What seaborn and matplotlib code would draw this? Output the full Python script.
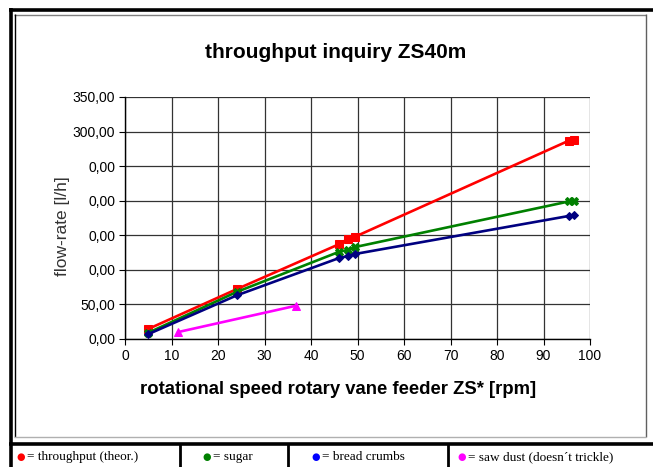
import matplotlib
matplotlib.use("Agg")
import matplotlib.pyplot as plt
import seaborn as sns
from matplotlib.lines import Line2D

# Data
red_x = [5, 24, 46, 48, 49.5, 95.5, 96.5]
red_y = [14.5, 72, 137, 145, 148, 287, 288]
green_x = [5, 24, 46, 48, 49.5, 95.5, 96.5]
green_y = [9, 68, 126, 129, 133, 199, 200]
blue_x = [5, 24, 46, 48, 49.5, 95.5, 96.5]
blue_y = [7, 63, 117, 120, 123, 178, 179]
pink_x = [11.4, 36.7]
pink_y = [10, 48]

y_ticks = [0, 50, 100, 150, 200, 250, 300, 350]
y_labels = ['0,00', '50,00', '0,00', '0,00', '0,00', '0,00', '300,00', '350,00']
x_ticks = list(range(0, 101, 10))

legend_items = ['= throughput (theor.)', '= sugar', '= bread crumbs',
                '= saw dust (doesn\u00b4t trickle)']
legend_colors = ['#ff0000', '#008000', '#0000ff', '#ff00ff']

sns.set_style('white')
plt.rcParams['font.family'] = ['Liberation Sans', 'DejaVu Sans']
plt.rcParams['text.color'] = 'black'
plt.rcParams['axes.labelcolor'] = 'black'

W, H = 653, 467
fig = plt.figure(figsize=(W / 100, H / 100), dpi=100)
ax = fig.add_axes([125 / W, 1 - 339 / H, (590 - 125) / W, (339 - 97) / H])

series = [(red_x, red_y, '#ff0000', 's', 5.5),
          (green_x, green_y, '#008000', 'X', 6),
          (blue_x, blue_y, '#000080', 'D', 4.5),
          (pink_x, pink_y, '#ff00ff', '^', 6)]
for xs, ys, col, mk, ms in series:
    sns.lineplot(x=xs, y=ys, ax=ax, color=col, marker=mk, markersize=ms,
                 markeredgecolor=col, linewidth=1.9, sort=False, zorder=3)

ax.set_xlim(0, 100)
ax.set_ylim(0, 350)
ax.set_xticks(x_ticks)
ax.set_yticks(y_ticks)
ax.set_yticklabels(y_labels)
ax.grid(True, color='#333333', linewidth=0.9)
for s in ['top', 'right']:
    ax.spines[s].set_visible(False)
for s in ['left', 'bottom']:
    ax.spines[s].set_color('black')
    ax.spines[s].set_linewidth(1.0)
ax.tick_params(axis='both', direction='out', length=4, width=0.8,
               colors='black', labelsize=10, pad=3,
               left=True, bottom=True)

# titles and axis labels
fig.text(336 / W, 1 - 52 / H, 'throughput inquiry ZS40m', ha='center',
         va='center', fontsize=15, fontweight='bold')
fig.text(338 / W, 1 - 390 / H, 'rotational speed rotary vane feeder ZS* [rpm]',
         ha='center', va='center', fontsize=13.3, fontweight='bold')
fig.text(63 / W, 1 - 226 / H, 'flow-rate [l/h]', ha='center', va='center',
         rotation=90, fontsize=12.5, color='#333333')

# frames
def hline(y, x0, x1, color, lw):
    fig.add_artist(Line2D([x0 / W, x1 / W], [1 - y / H, 1 - y / H],
                          color=color, linewidth=lw, solid_capstyle='butt'))

def vline(x, y0, y1, color, lw):
    fig.add_artist(Line2D([x / W, x / W], [1 - y0 / H, 1 - y1 / H],
                          color=color, linewidth=lw, solid_capstyle='butt'))

hline(9.5, 9, W, 'black', 2.6)
vline(10.5, 8, H, 'black', 2.6)
hline(14.5, 14, 646, '#808080', 1.0)
vline(14.5, 14, 437, 'black', 1.0)
vline(646, 14, 437, '#606060', 1.0)
hline(437, 14, 646, '#b0b0b0', 1.0)
hline(443.5, 9, W, 'black', 2.6)
for xs in [180, 288, 448]:
    vline(xs, 443, H, 'black', 2.0)

# legend table
dot_x = [21, 207, 316, 462]
text_x = [27, 213, 322, 468]
for dx, tx, label, col in zip(dot_x, text_x, legend_items, legend_colors):
    fig.text(dx / W, 1 - 457 / H, '\u25cf', color=col, ha='center',
             va='center', fontsize=7, family=['DejaVu Sans'])
    fig.text(tx / W, 1 - 457 / H, label, ha='left', va='center',
             fontsize=9.5, family=['Liberation Serif', 'DejaVu Serif'])

fig.savefig('out.png', dpi=100)
